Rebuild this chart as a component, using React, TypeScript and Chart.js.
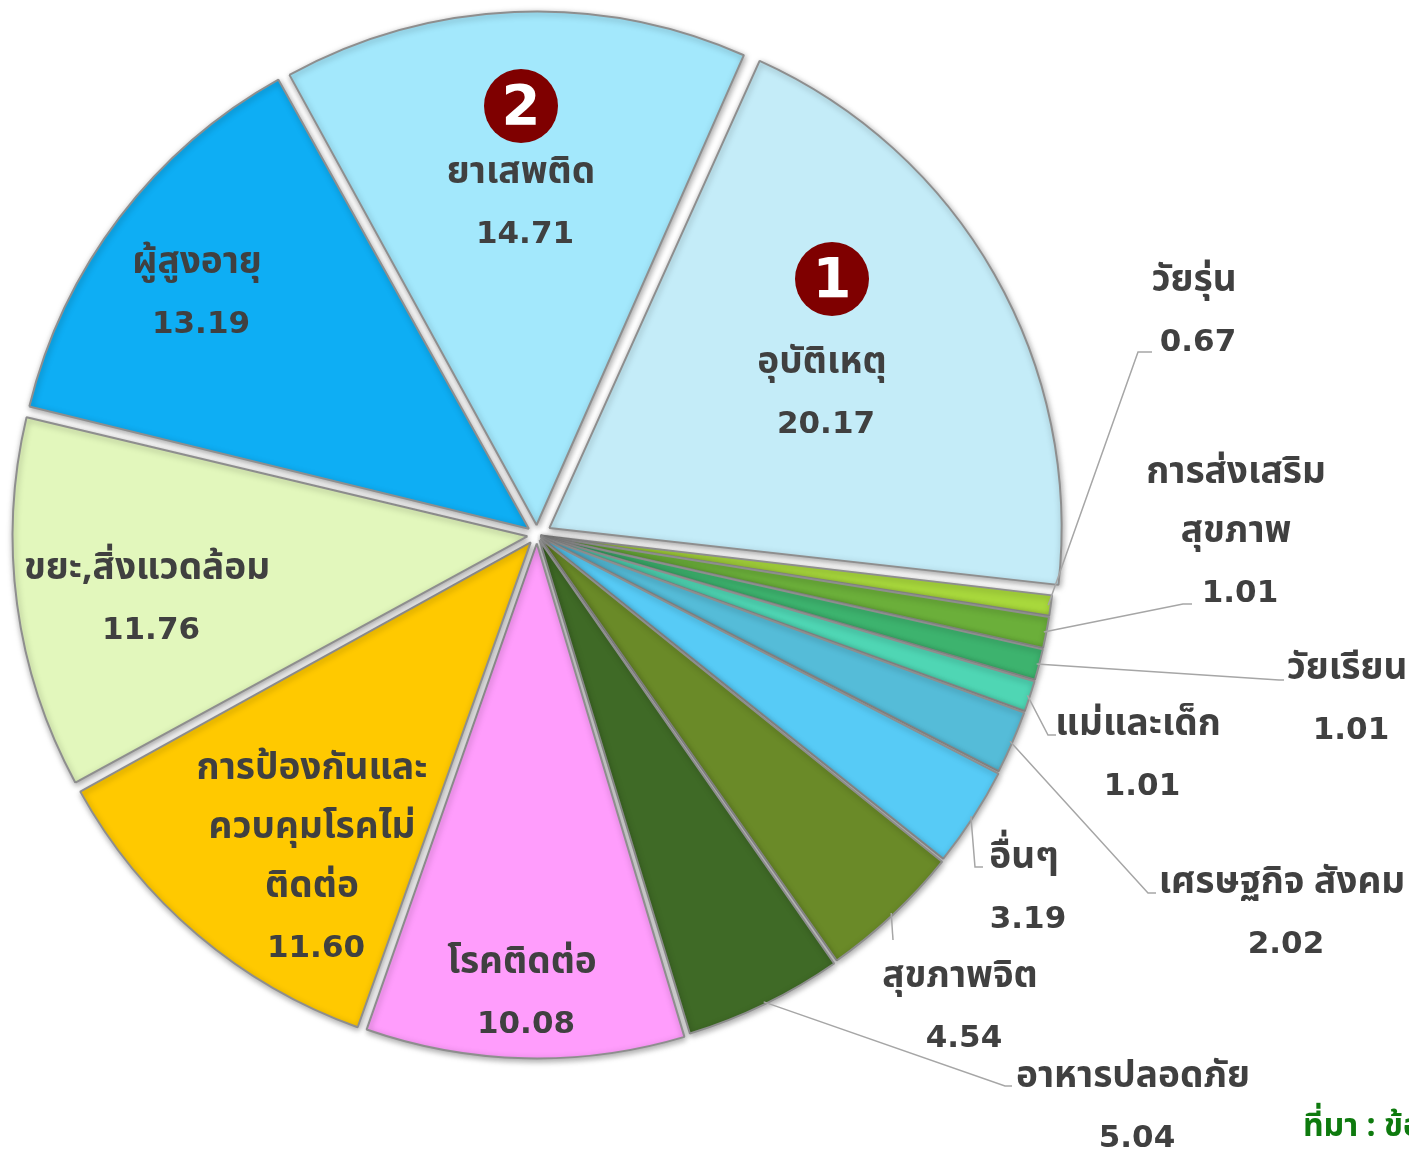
import React, { useEffect, useRef } from "react";
import { Chart, ArcElement, PieController } from "chart.js";

Chart.register(ArcElement, PieController);

const categories = [
  "อุบัติเหตุ",
  "วัยรุ่น",
  "การส่งเสริมสุขภาพ",
  "วัยเรียน",
  "แม่และเด็ก",
  "เศรษฐกิจ สังคม",
  "อื่นๆ",
  "สุขภาพจิต",
  "อาหารปลอดภัย",
  "โรคติดต่อ",
  "การป้องกันและควบคุมโรคไม่ติดต่อ",
  "ขยะ,สิ่งแวดล้อม",
  "ผู้สูงอายุ",
  "ยาเสพติด",
];

const values = [20.17, 0.67, 1.01, 1.01, 1.01, 2.02, 3.19, 4.54, 5.04, 10.08, 11.6, 11.76, 13.19, 14.71];

const valueLabels = ["20.17", "0.67", "1.01", "1.01", "1.01", "2.02", "3.19", "4.54", "5.04", "10.08", "11.60", "11.76", "13.19", "14.71"];

const colors = [
  "#C4ECF8",
  "#A8D83C",
  "#6BAF3A",
  "#3DB36E",
  "#4FD6B4",
  "#55BCD8",
  "#57CBF6",
  "#6A8A28",
  "#3F6A26",
  "#FF9DFC",
  "#FFC900",
  "#E2F7BC",
  "#0EAEF4",
  "#A3E8FC",
];

// label text lines (name lines) per slice, as displayed
const nameLines = [
  ["อุบัติเหตุ"],
  ["วัยรุ่น"],
  ["การส่งเสริม", "สุขภาพ"],
  ["วัยเรียน"],
  ["แม่และเด็ก"],
  ["เศรษฐกิจ สังคม"],
  ["อื่นๆ"],
  ["สุขภาพจิต"],
  ["อาหารปลอดภัย"],
  ["โรคติดต่อ"],
  ["การป้องกันและ", "ควบคุมโรคไม่", "ติดต่อ"],
  ["ขยะ,สิ่งแวดล้อม"],
  ["ผู้สูงอายุ"],
  ["ยาเสพติด"],
];

// label layout: x, y = centre of first text line; elbow = leader line bend point (null = inside)
const labelLayout = [
  { x: 822, y: 366, elbow: null },
  { x: 1194, y: 284, elbow: [1138, 352, 1152, 352] },
  { x: 1236, y: 476, elbow: [1183, 604, 1192, 604] },
  { x: 1347, y: 672, elbow: [1279, 680, 1284, 680] },
  { x: 1138, y: 728, elbow: [1048, 735, 1056, 735] },
  { x: 1282, y: 886, elbow: [1148, 893, 1156, 893] },
  { x: 1024, y: 861, elbow: [975, 867, 983, 867] },
  { x: 960, y: 980, elbow: [893, 940, 893, 940] },
  { x: 1133, y: 1080, elbow: [1005, 1086, 1012, 1086] },
  { x: 522, y: 966, elbow: null },
  { x: 312, y: 772, elbow: null },
  { x: 147, y: 572, elbow: null },
  { x: 197, y: 266, elbow: null },
  { x: 521, y: 176, elbow: null },
];

const badges = [
  { index: 0, text: "1", x: 832, y: 279 },
  { index: 13, text: "2", x: 521, y: 106 },
];

// explode distance of each slice, in pixels
const explodePx = [15, 7, 7, 7, 7, 7, 8, 9, 10, 12, 13, 13, 13, 12];

const total = values.reduce((a, b) => a + b, 0);
// Chart.js ArcElement moves a slice by offset/4 * (2 - sin(angle)); invert to get pixel shifts
const offsetOptions = explodePx.map((px, i) => {
  const circ = (values[i] / total) * Math.PI * 2;
  const fix = 1 - Math.sin(Math.min(Math.PI, circ));
  return (4 * px) / (1 + fix);
});

const THAI = "Tahoma, 'Noto Sans Thai', 'Noto Sans', 'DejaVu Sans', sans-serif";
const NUM = "'DejaVu Sans', sans-serif";

const shadowPlugin = {
  id: "sliceShadow",
  beforeDatasetsDraw(chart: any) {
    const ctx = chart.ctx;
    ctx.save();
    ctx.shadowColor = "rgba(0,0,0,0.35)";
    ctx.shadowBlur = 6;
    ctx.shadowOffsetX = 1;
    ctx.shadowOffsetY = 2;
  },
  afterDatasetsDraw(chart: any) {
    chart.ctx.restore();
  },
};

const labelPlugin = {
  id: "pieLabels",
  afterDatasetsDraw(chart: any) {
    const ctx = chart.ctx;
    const meta = chart.getDatasetMeta(0);
    ctx.save();
    meta.data.forEach((arc: any, i: number) => {
      const p = arc.getProps(["x", "y", "startAngle", "endAngle", "outerRadius"], true);
      const mid = (p.startAngle + p.endAngle) / 2;
      const lay = labelLayout[i];
      if (lay.elbow) {
        const r = p.outerRadius + explodePx[i] - 1;
        const sx = p.x + Math.cos(mid) * r;
        const sy = p.y + Math.sin(mid) * r;
        ctx.strokeStyle = "#A6A6A6";
        ctx.lineWidth = 1.5;
        ctx.beginPath();
        ctx.moveTo(sx, sy);
        ctx.lineTo(lay.elbow[0], lay.elbow[1]);
        ctx.lineTo(lay.elbow[2], lay.elbow[3]);
        ctx.stroke();
      }
      ctx.fillStyle = "#404040";
      ctx.textAlign = "center";
      ctx.textBaseline = "middle";
      const lines = nameLines[i];
      lines.forEach((ln, k) => {
        ctx.font = `bold 37px ${THAI}`;
        ctx.fillText(ln, lay.x, lay.y + k * 59);
      });
      ctx.font = `bold 31px ${NUM}`;
      ctx.fillText(valueLabels[i], lay.x + 4, lay.y + lines.length * 59);
    });
    badges.forEach((b) => {
      ctx.fillStyle = "#7F0000";
      ctx.beginPath();
      ctx.arc(b.x, b.y, 37, 0, Math.PI * 2);
      ctx.fill();
      ctx.fillStyle = "#FFFFFF";
      ctx.font = `bold 56px ${NUM}`;
      ctx.textAlign = "center";
      ctx.textBaseline = "middle";
      ctx.fillText(b.text, b.x, b.y + 3);
    });
    ctx.fillStyle = "#0E7A0E";
    ctx.font = `bold 32px ${THAI}`;
    ctx.textAlign = "left";
    ctx.textBaseline = "middle";
    ctx.fillText("ที่มา : ข้อมูล", 1303, 1130);
    ctx.restore();
  },
};

export default function App() {
  const ref = useRef<HTMLCanvasElement | null>(null);
  useEffect(() => {
    document.body.style.margin = "0";
    const canvas = ref.current!;
    const chart = new Chart(canvas, {
      type: "pie",
      data: {
        labels: categories,
        datasets: [
          {
            data: values,
            backgroundColor: colors,
            borderColor: "#8E8E8E",
            borderWidth: 2,
            offset: offsetOptions,
            spacing: 3,
            radius: 510,
          },
        ],
      },
      options: {
        responsive: false,
        animation: false,
        rotation: 24,
        layout: { padding: { left: 0, top: 0, right: 1409 - 1074, bottom: 1150 - 1070 } },
        plugins: { legend: { display: false }, tooltip: { enabled: false } },
      },
      plugins: [shadowPlugin, labelPlugin],
    });
    return () => chart.destroy();
  }, []);
  return (
    <div style={{ width: 1409, height: 1150, background: "#fff" }}>
      <canvas ref={ref} width={1409} height={1150} style={{ display: "block" }} />
    </div>
  );
}
